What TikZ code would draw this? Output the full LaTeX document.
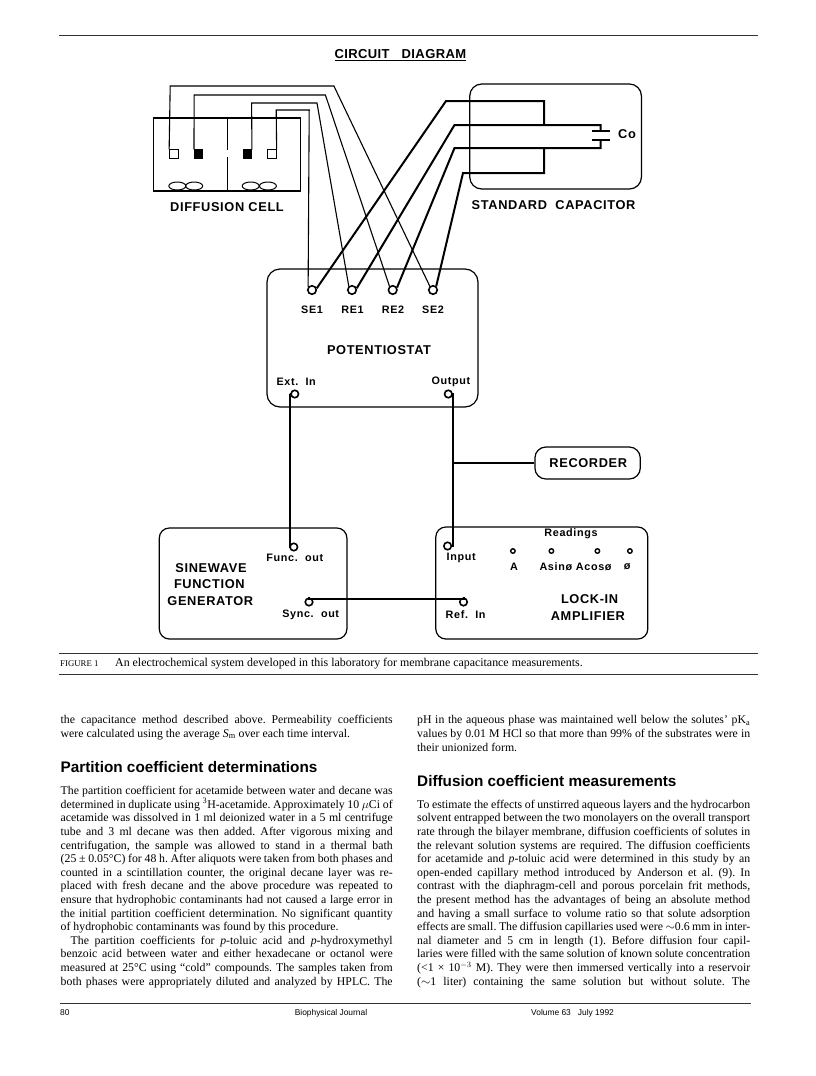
\documentclass[tikz,border=0pt]{standalone}
\usepackage{fontspec}
\usetikzlibrary{shapes.geometric}
\setmainfont{Liberation Serif}
\setsansfont{Liberation Sans}
\newfontfamily\wsans[LetterSpace=5]{Liberation Sans}
\newfontfamily\wsmall[LetterSpace=6]{Liberation Sans}
\newfontfamily\wtitle[LetterSpace=3]{Liberation Sans}
\newcommand\jl[1]{\hbox to 332pt{#1}}
\newcommand\jr[1]{\hbox to 333pt{#1}}
\newcommand\lastl[1]{\hbox{#1}}
\newcommand\lab{\fontsize{12.8}{14}\selectfont\wsans\bfseries}
\newcommand\sma{\fontsize{10.8}{12}\selectfont\wsmall\bfseries}
\newcommand\txt{\fontsize{11.8}{13.6}\selectfont\baselineskip=13.6pt\lineskiplimit=-20pt\frenchspacing\spaceskip=.25em plus .3em minus .08em\relax}
\begin{document}
\begin{tikzpicture}[x=1pt,y=-1pt,
  thinw/.style={line width=1.1pt,line join=miter},
  thickw/.style={line width=2pt,line join=miter},
  rbox/.style={draw,line width=1.2pt,rounded corners=10pt,inner sep=0pt},
  cellbox/.style={draw,line width=1.1pt,inner sep=0pt},
  port/.style={circle,draw,line width=1.6pt,minimum size=8.5pt,inner sep=0pt,fill=white},
  mini/.style={circle,draw,line width=1.4pt,minimum size=4.5pt,inner sep=0pt},
  opensq/.style={draw,line width=0.8pt,minimum size=8.5pt,inner sep=0pt},
  blacksq/.style={draw,fill=black,line width=0.8pt,minimum size=8.5pt,inner sep=0pt},
  stir/.style={draw,ellipse,line width=1pt,minimum width=17pt,minimum height=8pt,inner sep=0pt},
  lbl/.style={inner sep=0pt,font=\lab},
  sl/.style={inner sep=0pt,font=\sma},
  body/.style={inner sep=0pt,anchor=base west},
  rule/.style={line width=0.9pt,black!80}]
\useasboundingbox (0,0) rectangle (816,1076);
\fill[white] (0,0) rectangle (816,1076);
% page rules
\coordinate (r0a) at (59,35); \coordinate (r0b) at (758,35);
\draw[rule] (r0a) -- (r0b);
\coordinate (r1a) at (59,653); \coordinate (r1b) at (758,653);
\draw[rule] (r1a) -- (r1b);
\coordinate (r2a) at (59,674); \coordinate (r2b) at (758,674);
\draw[rule] (r2a) -- (r2b);
\coordinate (r3a) at (60,1003); \coordinate (r3b) at (751,1003);
\draw[rule] (r3a) -- (r3b);
% title
\node[inner sep=0pt,font=\fontsize{13}{14}\selectfont\wtitle\bfseries] (title) at (400.4,55) {\underline{CIRCUIT\ \ \ DIAGRAM}};
% diffusion cell
\node[cellbox,minimum width=147pt,minimum height=73pt] (cell) at (227.2,154.5) {};
\coordinate (dt) at (227,118); \coordinate (d1) at (227,150); \coordinate (d2) at (227,157); \coordinate (db) at (227,191);
\draw[line width=1pt] (dt) -- (d1) (d2) -- (db);
\node[opensq] (o1) at (173.8,154) {};
\node[blacksq] (b1) at (198.6,154) {};
\node[blacksq] (b2) at (247.3,154) {};
\node[opensq] (o2) at (272,154) {};
\node[stir] (s1) at (177.3,186) {};
\node[stir] (s2) at (194.2,186) {};
\node[stir] (s3) at (250.7,186) {};
\node[stir] (s4) at (267.9,186) {};
\node[lbl] (dc) at (227,207) {DIFFUSION\ CELL};
% capacitor
\node[rbox,minimum width=171.7pt,minimum height=105pt,rounded corners=12pt] (cap) at (555.6,136.5) {};
\node[lbl] (sc) at (553.6,205.5) {STANDARD\ \ CAPACITOR};
\node[lbl] (co) at (627,134) {Co};
\coordinate (p1a) at (591.5,131); \coordinate (p1b) at (610,131);
\coordinate (p2a) at (591.5,140); \coordinate (p2b) at (610,140);
\coordinate (p1m) at (600.6,131); \coordinate (p2m) at (600.6,140);
\draw[line width=1.3pt] (p1a) -- (p1b) (p2a) -- (p2b);
% potentiostat
\node[rbox,minimum width=211pt,minimum height=138pt,rounded corners=13pt] (pot) at (372.5,338) {};
\node[port] (se1) at (312,290) {};
\node[port] (re1) at (352,290) {};
\node[port] (re2) at (392.7,290) {};
\node[port] (se2) at (433,290) {};
\node[sl] (lse1) at (312,309.5) {SE1};
\node[sl] (lre1) at (352.5,309.5) {RE1};
\node[sl] (lre2) at (393,309.5) {RE2};
\node[sl] (lse2) at (433,309.5) {SE2};
\node[lbl] (pt) at (379,350.5) {POTENTIOSTAT};
\node[sl] (lext) at (296.2,382) {Ext.\ \ In};
\node[sl] (lout) at (451,382) {Output};
\node[port,minimum size=7.5pt] (ext) at (294.8,394) {};
\node[port,minimum size=7.5pt] (out) at (448.3,394) {};
% recorder
\node[rbox,minimum width=105.4pt,minimum height=32pt,rounded corners=11pt] (rec) at (587.6,463) {};
\node[lbl] (lrec) at (588.3,463) {RECORDER};
% function generator
\node[rbox,minimum width=187.6pt,minimum height=111pt] (gen) at (253.1,583.5) {};
\node[lbl] (g1) at (211,568) {SINEWAVE};
\node[lbl] (g2) at (209.3,584.5) {FUNCTION};
\node[lbl] (g3) at (210.3,601.5) {GENERATOR};
\node[port,minimum size=7.5pt] (fo) at (293.8,547) {};
\node[port,minimum size=7.5pt] (so) at (309,602) {};
\node[sl] (lfo) at (294.8,558) {Func.\ \ out};
\node[sl] (lso) at (310.7,614.5) {Sync.\ \ out};
% lock-in
\node[rbox,minimum width=212pt,minimum height=112pt] (lia) at (541.8,583) {};
\node[port,minimum size=7.5pt] (inp) at (447.6,546) {};
\node[port,minimum size=7.5pt] (ref) at (463.5,602) {};
\node[sl] (linp) at (461.2,558) {Input};
\node[sl] (lref) at (465.6,614.5) {Ref.\ \ In};
\node[sl] (lrd) at (571,534) {Readings};
\node[mini] (m1) at (512.9,551) {};
\node[mini] (m2) at (551.4,551) {};
\node[mini] (m3) at (597.4,551) {};
\node[mini] (m4) at (629.9,551) {};
\node[sl] (ma) at (513.9,567) {A};
\node[sl] (mb) at (555.8,567) {Asinø};
\node[sl] (mc) at (593.7,567) {Acosø};
\node[sl] (md) at (627.2,567) {ø};
\node[lbl] (l1) at (589.6,599) {LOCK-IN};
\node[lbl] (l2) at (587.9,616) {AMPLIFIER};
% thin wires diffusion cell -> potentiostat
\draw[thinw] (o1.north west) -- (170.2,86) -- (333.9,86) -- (se2.130);
\draw[thinw] (b1.north west) -- (194.2,95) -- (325.4,95) -- (re2.130);
\draw[thinw] (b2.north east) -- (251.6,103) -- (317,103) -- (re1.130);
\draw[thinw] (o2.north east) -- (276.2,110) -- (309.2,110) -- (se1.140);
% thick wires capacitor -> potentiostat
\draw[thickw] (se1.20) -- (446,101) -- (544.1,101) -- (544.1,125);
\draw[thickw] (re1.20) -- (454.5,125) -- (600.6,125) -- (p1m);
\draw[thickw] (re2.30) -- (454.5,148) -- (600.6,148) -- (p2m);
\draw[thickw] (se2.50) -- (463,173) -- (544.1,173) -- (544.1,148);
% lower wiring
\draw[thickw] (ext.west) -- (290.4,394) -- (290.4,547) -- (fo.west);
\draw[thickw] (out.east) -- (452.7,394) -- (452.7,546) -- (inp.east);
\coordinate (br) at (452.7,463);
\draw[thickw] (br) -- (rec.west);
\draw[thickw] (so.north) -- (309,599) -- (463.5,599) -- (ref.north);
% caption
\node[body,font=\fontsize{11.9}{13}\selectfont] (cap1) at (60,666) {\hbox to 55pt{\fontsize{8.8}{10}\selectfont FIGURE 1\hfil}An electrochemical system developed in this laboratory for membrane capacitance measurements.};
% columns
\node[body] (t1) at (60.5,737) {\vbox{\txt
\jl{the capacitance method described above. Permeability coefficients}
\lastl{were calculated using the average \textit{S}$_{\rm m}$ over each time interval.}}};
\node[body,font=\fontsize{15.3}{17}\selectfont\sffamily\bfseries] (h1) at (60.5,772) {Partition coefficient determinations};
\node[body] (t2) at (60.5,985) {\vbox{\txt
\jl{The partition coefficient for acetamide between water and decane was}
\jl{determined in duplicate using \textsuperscript{3}H-acetamide. Approximately 10 $\mu$Ci of}
\jl{acetamide was dissolved in 1 ml deionized water in a 5 ml centrifuge}
\jl{tube and 3 ml decane was then added. After vigorous mixing and}
\jl{centrifugation, the sample was allowed to stand in a thermal bath}
\jl{(25 ± 0.05°C) for 48 h. After aliquots were taken from both phases and}
\jl{counted in a scintillation counter, the original decane layer was re-}
\jl{placed with fresh decane and the above procedure was repeated to}
\jl{ensure that hydrophobic contaminants had not caused a large error in}
\jl{the initial partition coefficient determination. No significant quantity}
\lastl{of hydrophobic contaminants was found by this procedure.}
\jl{\hspace{10pt}The partition coefficients for \textit{p}-toluic acid and \textit{p}-hydroxymethyl}
\jl{benzoic acid between water and either hexadecane or octanol were}
\jl{measured at 25°C using “cold” compounds. The samples taken from}
\jl{both phases were appropriately diluted and analyzed by HPLC. The}}};
\node[body] (t3) at (417,751) {\vbox{\txt
\jr{pH in the aqueous phase was maintained well below the solutes’ pK$_{\rm a}$}
\jr{values by 0.01 M HCl so that more than 99\% of the substrates were in}
\lastl{their unionized form.}}};
\node[body,font=\fontsize{15.3}{17}\selectfont\sffamily\bfseries] (h2) at (417,786) {Diffusion coefficient measurements};
\node[body] (t4) at (417,985) {\vbox{\txt
\jr{To estimate the effects of unstirred aqueous layers and the hydrocarbon}
\jr{solvent entrapped between the two monolayers on the overall transport}
\jr{rate through the bilayer membrane, diffusion coefficients of solutes in}
\jr{the relevant solution systems are required. The diffusion coefficients}
\jr{for acetamide and \textit{p}-toluic acid were determined in this study by an}
\jr{open-ended capillary method introduced by Anderson et al. (9). In}
\jr{contrast with the diaphragm-cell and porous porcelain frit methods,}
\jr{the present method has the advantages of being an absolute method}
\jr{and having a small surface to volume ratio so that solute adsorption}
\jr{effects are small. The diffusion capillaries used were $\sim$0.6 mm in inter-}
\jr{nal diameter and 5 cm in length (1). Before diffusion four capil-}
\jr{laries were filled with the same solution of known solute concentration}
\jr{(<1 × 10$^{-3}$ M). They were then immersed vertically into a reservoir}
\jr{($\sim$1 liter) containing the same solution but without solute. The}}};
% footer
\node[body,font=\fontsize{8.4}{10}\selectfont\sffamily] (f1) at (60,1015) {80};
\node[inner sep=0pt,anchor=base,font=\fontsize{8.4}{10}\selectfont\sffamily] (f2) at (331,1015) {Biophysical Journal};
\node[body,font=\fontsize{8.4}{10}\selectfont\sffamily] (f3) at (531,1015) {Volume 63\ \ \ July 1992};
\end{tikzpicture}
\end{document}
